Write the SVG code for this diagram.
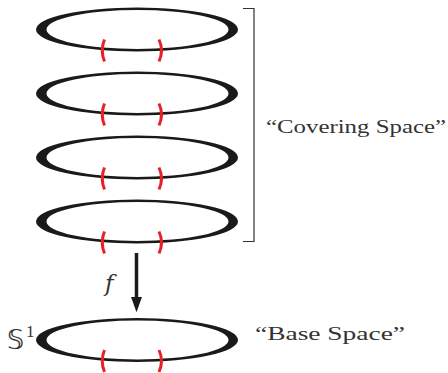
<svg xmlns="http://www.w3.org/2000/svg" xmlns:xlink="http://www.w3.org/1999/xlink" width="448" height="373" viewBox="0 0 448 373">
<style>
.ring{fill:#1a1a1a;fill-rule:evenodd}
.mark{fill:none;stroke:#e8202a;stroke-width:3;stroke-linecap:butt}
.lbl{font-family:"Liberation Serif","Times New Roman",serif;fill:#333}
.conn{stroke:#1a1a1a;stroke-width:3.5;fill:none}
.bracket{stroke:#333;stroke-width:1.2;fill:none}
</style>
<defs>
<g id="circ">
<path class="ring" d="M36,0 A101,22 0 1,0 238,0 A101,22 0 1,0 36,0 Z M46.5,0 A91,19.5 0 1,0 228.5,0 A91,19.5 0 1,0 46.5,0 Z"/>
<path class="mark" d="M104.5,10 Q100,21 104.5,32"/>
<path class="mark" d="M159,10 Q164,21 159,32"/>
</g>
<marker id="ah" markerUnits="userSpaceOnUse" markerWidth="16" markerHeight="22" refX="0" refY="7.5" orient="auto" viewBox="0 0 22 16">
<polygon points="0,0 21,7.5 0,15" fill="#1a1a1a"/>
</marker>
</defs>
<g id="cover1"><use xlink:href="#circ" transform="translate(0,29.5)"/></g>
<g id="cover2"><use xlink:href="#circ" transform="translate(0,93.5)"/></g>
<g id="cover3"><use xlink:href="#circ" transform="translate(0,157.5)"/></g>
<g id="cover4"><use xlink:href="#circ" transform="translate(0,221.5)"/></g>
<g id="base"><use xlink:href="#circ" transform="translate(0,340)"/>
<text x="7" y="349" font-family="DejaVu Sans, sans-serif" font-size="27" fill="#333">𝕊</text>
<text x="26" y="337" font-family="Liberation Serif, serif" font-size="17" fill="#333">1</text>
</g>
<g id="bracket"><path class="bracket" d="M243,8.5 H254 V241.5 H243"/></g>
<g id="covlabel"><text x="266" y="133" class="lbl" font-size="19" textLength="180" lengthAdjust="spacingAndGlyphs">“Covering Space”</text></g>
<g id="baselabel"><text x="255" y="340" class="lbl" font-size="19" textLength="150" lengthAdjust="spacingAndGlyphs">“Base Space”</text></g>
<g id="connectors">
<line class="conn" x1="136.5" y1="253" x2="136.5" y2="297" marker-end="url(#ah)"/>
<text x="105" y="291" font-family="DejaVu Serif, serif" font-size="23" font-style="italic" fill="#333">f</text>
</g>
</svg>
